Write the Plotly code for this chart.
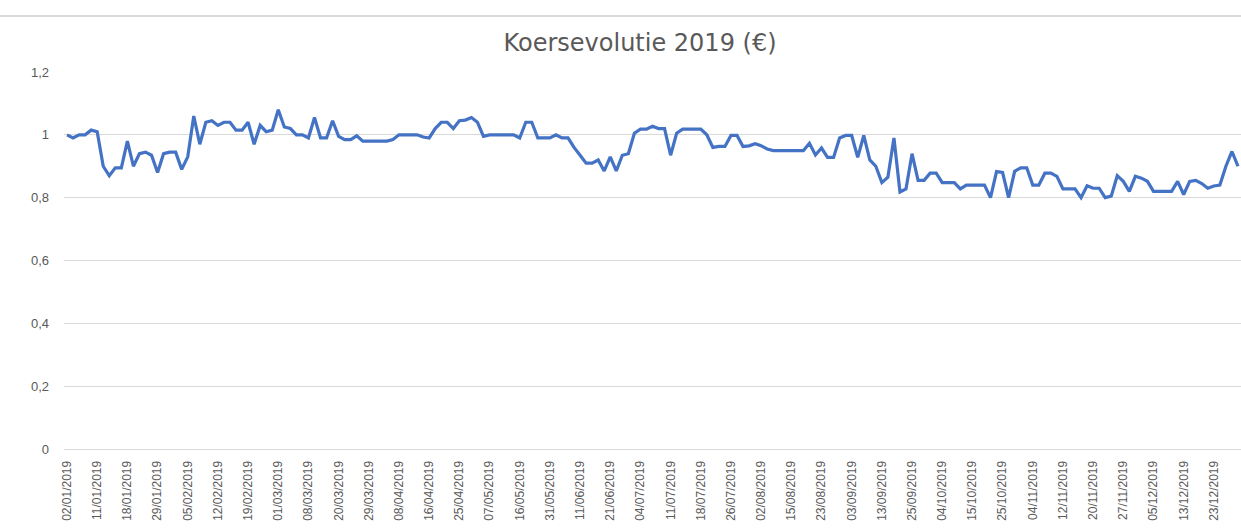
import plotly.graph_objects as go

dates = [
    "02/01/2019", "03/01/2019", "04/01/2019", "07/01/2019", "08/01/2019",
    "11/01/2019", "14/01/2019", "15/01/2019", "16/01/2019", "17/01/2019",
    "18/01/2019", "21/01/2019", "22/01/2019", "24/01/2019", "25/01/2019",
    "29/01/2019", "30/01/2019", "31/01/2019", "01/02/2019", "04/02/2019",
    "05/02/2019", "06/02/2019", "07/02/2019", "08/02/2019", "11/02/2019",
    "12/02/2019", "13/02/2019", "14/02/2019", "15/02/2019", "18/02/2019",
    "19/02/2019", "20/02/2019", "21/02/2019", "22/02/2019", "28/02/2019",
    "01/03/2019", "04/03/2019", "05/03/2019", "06/03/2019", "07/03/2019",
    "08/03/2019", "11/03/2019", "13/03/2019", "15/03/2019", "18/03/2019",
    "20/03/2019", "21/03/2019", "25/03/2019", "26/03/2019", "28/03/2019",
    "29/03/2019", "01/04/2019", "02/04/2019", "04/04/2019", "05/04/2019",
    "08/04/2019", "09/04/2019", "10/04/2019", "11/04/2019", "15/04/2019",
    "16/04/2019", "17/04/2019", "18/04/2019", "23/04/2019", "24/04/2019",
    "25/04/2019", "26/04/2019", "29/04/2019", "30/04/2019", "02/05/2019",
    "07/05/2019", "08/05/2019", "09/05/2019", "10/05/2019", "14/05/2019",
    "16/05/2019", "17/05/2019", "22/05/2019", "24/05/2019", "28/05/2019",
    "31/05/2019", "03/06/2019", "04/06/2019", "05/06/2019", "07/06/2019",
    "11/06/2019", "12/06/2019", "14/06/2019", "18/06/2019", "20/06/2019",
    "21/06/2019", "24/06/2019", "26/06/2019", "28/06/2019", "02/07/2019",
    "04/07/2019", "05/07/2019", "08/07/2019", "09/07/2019", "10/07/2019",
    "11/07/2019", "12/07/2019", "15/07/2019", "16/07/2019", "17/07/2019",
    "18/07/2019", "19/07/2019", "22/07/2019", "23/07/2019", "25/07/2019",
    "26/07/2019", "29/07/2019", "30/07/2019", "31/07/2019", "01/08/2019",
    "02/08/2019", "05/08/2019", "07/08/2019", "09/08/2019", "13/08/2019",
    "15/08/2019", "16/08/2019", "19/08/2019", "21/08/2019", "22/08/2019",
    "23/08/2019", "26/08/2019", "28/08/2019", "29/08/2019", "02/09/2019",
    "03/09/2019", "04/09/2019", "06/09/2019", "10/09/2019", "12/09/2019",
    "13/09/2019", "16/09/2019", "18/09/2019", "20/09/2019", "24/09/2019",
    "25/09/2019", "26/09/2019", "30/09/2019", "01/10/2019", "03/10/2019",
    "04/10/2019", "07/10/2019", "09/10/2019", "10/10/2019", "14/10/2019",
    "15/10/2019", "17/10/2019", "18/10/2019", "22/10/2019", "24/10/2019",
    "25/10/2019", "28/10/2019", "29/10/2019", "31/10/2019", "01/11/2019",
    "04/11/2019", "05/11/2019", "06/11/2019", "07/11/2019", "08/11/2019",
    "12/11/2019", "13/11/2019", "14/11/2019", "15/11/2019", "19/11/2019",
    "20/11/2019", "21/11/2019", "22/11/2019", "25/11/2019", "26/11/2019",
    "27/11/2019", "28/11/2019", "29/11/2019", "02/12/2019", "04/12/2019",
    "05/12/2019", "06/12/2019", "09/12/2019", "10/12/2019", "12/12/2019",
    "13/12/2019", "16/12/2019", "17/12/2019", "18/12/2019", "20/12/2019",
    "23/12/2019", "24/12/2019", "27/12/2019", "30/12/2019", "31/12/2019",
]

koers = [
    1.00, 0.99, 1.00, 1.00, 1.015,
    1.01, 0.90, 0.87, 0.895, 0.895,
    0.98, 0.90, 0.94, 0.945, 0.935,
    0.88, 0.94, 0.945, 0.945, 0.89,
    0.93, 1.06, 0.97, 1.04, 1.045,
    1.03, 1.04, 1.04, 1.015, 1.015,
    1.04, 0.97, 1.03, 1.01, 1.015,
    1.08, 1.025, 1.02, 1.00, 1.00,
    0.99, 1.055, 0.99, 0.99, 1.045,
    0.995, 0.985, 0.985, 0.997, 0.98,
    0.98, 0.98, 0.98, 0.98, 0.985,
    1.00, 1.00, 1.00, 1.00, 0.993,
    0.99, 1.02, 1.04, 1.04, 1.02,
    1.045, 1.047, 1.055, 1.04, 0.995,
    1.00, 1.00, 1.00, 1.00, 1.00,
    0.99, 1.04, 1.04, 0.99, 0.99,
    0.99, 1.00, 0.99, 0.99, 0.96,
    0.935, 0.91, 0.91, 0.92, 0.885,
    0.93, 0.885, 0.935, 0.94, 1.005,
    1.018, 1.018, 1.027, 1.02, 1.02,
    0.935, 1.005, 1.018, 1.018, 1.018,
    1.018, 1.00, 0.96, 0.963, 0.963,
    0.998, 0.998, 0.963, 0.965, 0.972,
    0.965, 0.955, 0.95, 0.95, 0.95,
    0.95, 0.95, 0.95, 0.973, 0.936,
    0.958, 0.928, 0.928, 0.99, 0.998,
    0.998, 0.928, 0.998, 0.92, 0.90,
    0.848, 0.865, 0.99, 0.818, 0.828,
    0.94, 0.855, 0.855, 0.878, 0.878,
    0.848, 0.848, 0.848, 0.828, 0.84,
    0.84, 0.84, 0.84, 0.80, 0.883,
    0.88, 0.80, 0.884, 0.895, 0.895,
    0.84, 0.84, 0.878, 0.878, 0.868,
    0.828, 0.828, 0.828, 0.80, 0.838,
    0.83, 0.83, 0.80, 0.805, 0.87,
    0.852, 0.82, 0.868, 0.862, 0.852,
    0.82, 0.82, 0.82, 0.82, 0.852,
    0.81, 0.852, 0.855, 0.845, 0.83,
    0.837, 0.84, 0.90, 0.947, 0.90,
]

tick_labels = [
    "02/01/2019", "11/01/2019", "18/01/2019", "29/01/2019", "05/02/2019",
    "12/02/2019", "19/02/2019", "01/03/2019", "08/03/2019", "20/03/2019",
    "29/03/2019", "08/04/2019", "16/04/2019", "25/04/2019", "07/05/2019",
    "16/05/2019", "31/05/2019", "11/06/2019", "21/06/2019", "04/07/2019",
    "11/07/2019", "18/07/2019", "26/07/2019", "02/08/2019", "15/08/2019",
    "23/08/2019", "03/09/2019", "13/09/2019", "25/09/2019", "04/10/2019",
    "15/10/2019", "25/10/2019", "04/11/2019", "12/11/2019", "20/11/2019",
    "27/11/2019", "05/12/2019", "13/12/2019", "23/12/2019",
]

title_text = "Koersevolutie 2019 (€)"

W, H = 1241, 529
L, R, T, B = 64, 0, 72, 80
text_col = "#595959"
grid_col = "#d9d9d9"

fig = go.Figure()
fig.add_trace(go.Scatter(
    x=dates, y=koers, mode="lines",
    line=dict(color="#4472C4", width=3.2),
    hovertemplate="%{x}: %{y}<extra></extra>",
))

fig.update_layout(
    width=W, height=H,
    margin=dict(l=L, r=R, t=T, b=B, autoexpand=False),
    paper_bgcolor="white", plot_bgcolor="white",
    separators=", ",
    showlegend=False,
    title=dict(
        text=title_text, x=640 / W, xref="container", xanchor="center",
        y=1 - 43 / H, yref="container", yanchor="middle",
        font=dict(family="DejaVu Sans", size=24, color=text_col),
    ),
    font=dict(family="Liberation Sans", size=13, color=text_col),
)

fig.update_xaxes(
    type="category",
    categoryorder="array", categoryarray=dates,
    range=[-0.5, len(dates) - 0.5],
    tickmode="array", tickvals=tick_labels, ticktext=tick_labels,
    tickangle=-90,
    showgrid=False, zeroline=False,
    showline=True, linecolor=grid_col, linewidth=1,
    ticks="", ticklabelstandoff=6, automargin=False,
    tickfont=dict(family="Liberation Sans", size=12, color=text_col),
)

fig.update_yaxes(
    range=[0, 1.2], dtick=0.2, tick0=0,
    showgrid=True, gridcolor=grid_col, gridwidth=1,
    zeroline=False, showline=False, ticks="",
    ticklabelstandoff=14, automargin=False,
    tickfont=dict(family="Liberation Sans", size=13, color=text_col),
)

# top border line of the chart area
fig.add_shape(
    type="line", xref="paper", yref="paper",
    x0=-L / (W - L - R), x1=1, y0=1 + (T - 16) / (H - T - B), y1=1 + (T - 16) / (H - T - B),
    line=dict(color=grid_col, width=2),
)

fig.write_html(
    "out.html",
    config={"displayModeBar": False},
    post_script="document.body.style.margin='0';document.body.style.overflow='hidden';",
)
